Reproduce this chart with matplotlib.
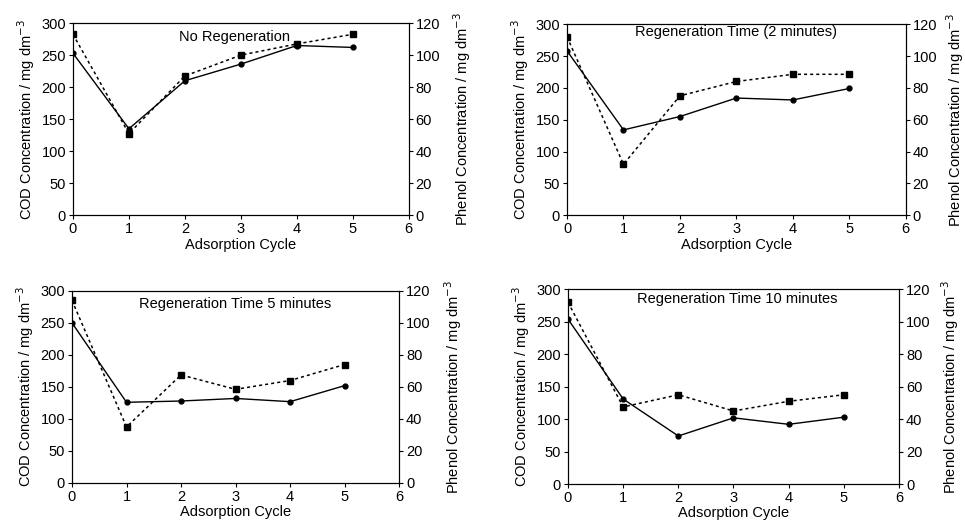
import matplotlib
matplotlib.use('Agg')
import matplotlib.pyplot as plt

plt.rcParams['font.family'] = ['Liberation Sans', 'DejaVu Sans']
plt.rcParams['font.size'] = 10.5

# Adsorption cycles
cycles = [0, 1, 2, 3, 4, 5]

# COD concentration (mg dm^-3), solid line with circles
cod_none = [253, 135, 210, 236, 265, 262]
cod_2min = [258, 134, 155, 184, 181, 199]
cod_5min = [250, 126, 128, 132, 127, 152]
cod_10min = [254, 131, 74, 102, 92, 103]

# Phenol concentration (mg dm^-3), dotted line with squares
phenol_none = [113, 51, 87, 100, 107, 113]
phenol_2min = [112, 32, 75, 84, 88.5, 88.5]
phenol_5min = [114, 35, 67.5, 58.5, 64, 74]
phenol_10min = [112, 47.5, 55, 45, 51, 55]

titles = ['No Regeneration', 'Regeneration Time (2 minutes)',
          'Regeneration Time 5 minutes', 'Regeneration Time 10 minutes']
cod_all = [cod_none, cod_2min, cod_5min, cod_10min]
phenol_all = [phenol_none, phenol_2min, phenol_5min, phenol_10min]

# axes boxes in figure fractions and title positions in axes fractions
boxes = [[0.0756, 0.590, 0.348, 0.366],
         [0.5876, 0.590, 0.351, 0.364],
         [0.0746, 0.080, 0.339, 0.366],
         [0.5886, 0.078, 0.343, 0.371]]
title_pos = [(0.48, 0.93), (0.50, 0.96), (0.50, 0.93), (0.51, 0.95)]
right_pad = [8, 5, 8, 6]

fig = plt.figure(figsize=(9.65, 5.25), dpi=100)

for i in range(4):
    ax = fig.add_axes(boxes[i])
    ax2 = ax.twinx()

    ax.plot(cycles, cod_all[i], 'k-', lw=1, marker='o', ms=3.5, zorder=3)
    ax2.plot(cycles, phenol_all[i], color='k', ls=(0, (2, 2)), lw=1.1,
             marker='s', ms=4, zorder=3)

    ax.set_xlim(0, 6)
    ax.set_ylim(0, 300)
    ax2.set_ylim(0, 120)
    ax.set_xticks(range(0, 7))
    ax.set_yticks(range(0, 301, 50))
    ax2.set_yticks(range(0, 121, 20))

    ax.tick_params(direction='out', length=3, width=0.8, pad=2)
    ax2.tick_params(direction='out', length=3, width=0.8, pad=2)
    for a in (ax, ax2):
        for s in a.spines.values():
            s.set_linewidth(0.8)

    ax.set_xlabel('Adsorption Cycle', labelpad=1)
    ax.set_ylabel('COD Concentration / mg dm$^{-3}$', labelpad=3)
    ax2.set_ylabel('Phenol Concentration / mg dm$^{-3}$', labelpad=right_pad[i])

    tx, ty = title_pos[i]
    ax.text(tx, ty, titles[i], transform=ax.transAxes, ha='center', va='center')

fig.savefig('out.png', dpi=100)
